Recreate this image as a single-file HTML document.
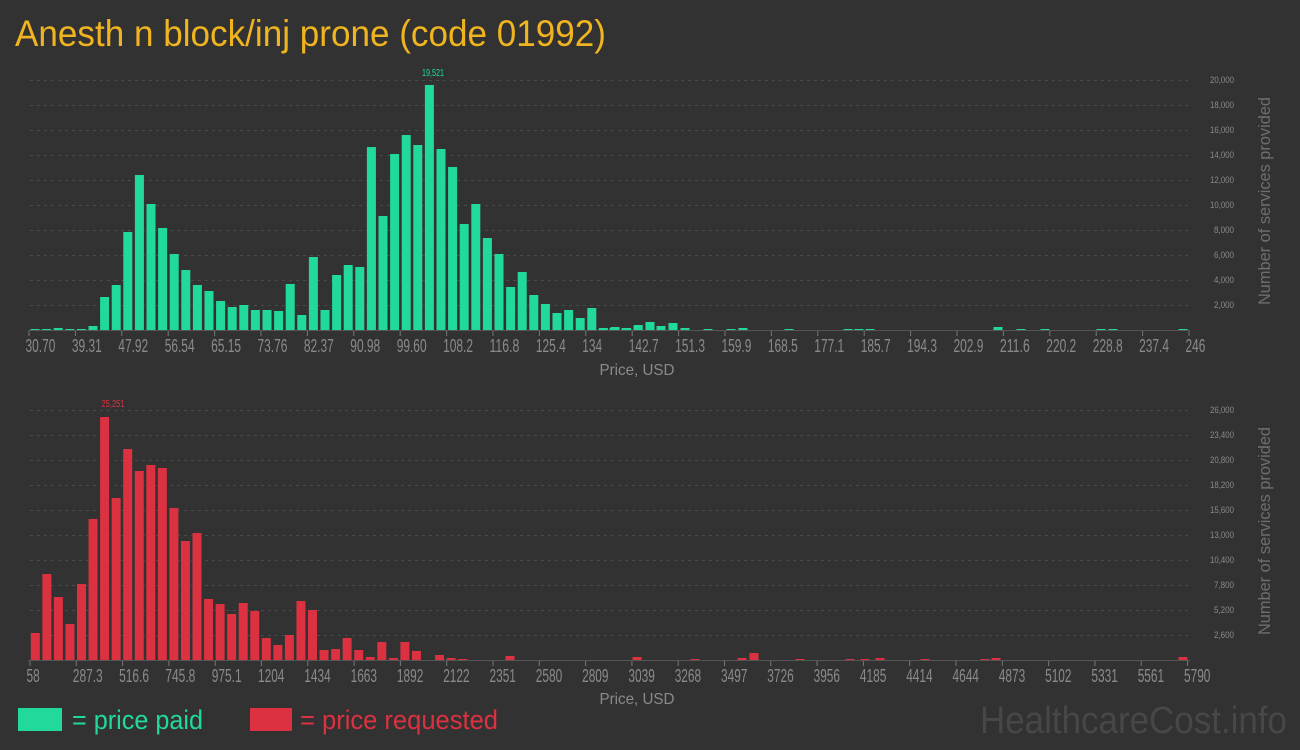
<!DOCTYPE html>
<html><head><meta charset="utf-8"><style>
html,body{margin:0;padding:0;background:#323232;}
svg{display:block}
text{font-family:"Liberation Sans Narrow","Liberation Sans",sans-serif;}
</style></head><body>
<svg id="s" width="1300" height="750" xmlns="http://www.w3.org/2000/svg">
<rect width="1300" height="750" fill="#323232"/>
<text x="15" y="46" font-size="37" fill="#efb41f" textLength="591" lengthAdjust="spacingAndGlyphs">Anesth n block/inj prone (code 01992)</text>
<g id="grid" stroke="#4a4a4a" stroke-dasharray="3,4" stroke-width="1"></g>
<g id="bars"></g>
<line x1="28" y1="330.5" x2="1190" y2="330.5" stroke="#555"/>
<line x1="28" y1="660.5" x2="1190" y2="660.5" stroke="#555"/>
<g id="ticks" stroke="#777"></g>
<g id="tl" font-size="18" fill="#8a8a8a">
<text>30.70</text><text>39.31</text><text>47.92</text><text>56.54</text><text>65.15</text><text>73.76</text><text>82.37</text><text>90.98</text><text>99.60</text><text>108.2</text><text>116.8</text><text>125.4</text><text>134</text><text>142.7</text><text>151.3</text><text>159.9</text><text>168.5</text><text>177.1</text><text>185.7</text><text>194.3</text><text>202.9</text><text>211.6</text><text>220.2</text><text>228.8</text><text>237.4</text><text>246</text>
</g>
<g id="bl" font-size="18" fill="#8a8a8a">
<text>58</text><text>287.3</text><text>516.6</text><text>745.8</text><text>975.1</text><text>1204</text><text>1434</text><text>1663</text><text>1892</text><text>2122</text><text>2351</text><text>2580</text><text>2809</text><text>3039</text><text>3268</text><text>3497</text><text>3726</text><text>3956</text><text>4185</text><text>4414</text><text>4644</text><text>4873</text><text>5102</text><text>5331</text><text>5561</text><text>5790</text>
</g>
<g font-size="16" fill="#8a8a8a" text-anchor="middle">
<text x="637" y="375" textLength="75" lengthAdjust="spacingAndGlyphs">Price, USD</text><text x="637" y="704" textLength="75" lengthAdjust="spacingAndGlyphs">Price, USD</text>
</g>
<g id="yl" font-size="9" fill="#8a8a8a" text-anchor="end">
<text x="1234" y="83">20,000</text><text x="1234" y="108">18,000</text><text x="1234" y="133">16,000</text><text x="1234" y="158">14,000</text><text x="1234" y="183">12,000</text><text x="1234" y="208">10,000</text><text x="1234" y="233">8,000</text><text x="1234" y="258">6,000</text><text x="1234" y="283">4,000</text><text x="1234" y="308">2,000</text>
<text x="1234" y="413">26,000</text><text x="1234" y="438">23,400</text><text x="1234" y="463">20,800</text><text x="1234" y="488">18,200</text><text x="1234" y="513">15,600</text><text x="1234" y="538">13,000</text><text x="1234" y="563">10,400</text><text x="1234" y="588">7,800</text><text x="1234" y="613">5,200</text><text x="1234" y="638">2,600</text>
</g>
<g font-size="17" fill="#6e6e6e" text-anchor="middle">
<text transform="translate(1270,201) rotate(-90)" textLength="208" lengthAdjust="spacingAndGlyphs">Number of services provided</text>
<text transform="translate(1270,531) rotate(-90)" textLength="208" lengthAdjust="spacingAndGlyphs">Number of services provided</text>
</g>
<text x="433" y="76" font-size="10" fill="#21d99b" text-anchor="middle" textLength="22" lengthAdjust="spacingAndGlyphs">19,521</text>
<text x="113" y="407" font-size="10" fill="#dc3140" text-anchor="middle" textLength="23" lengthAdjust="spacingAndGlyphs">25,251</text>
<rect x="18" y="708" width="44" height="23" fill="#21d99b"/>
<text x="72" y="729" font-size="27" fill="#21d99b" textLength="131" lengthAdjust="spacingAndGlyphs">= price paid</text>
<rect x="250" y="708" width="42" height="23" fill="#dc3140"/>
<text x="300" y="729" font-size="27" fill="#dc3140" textLength="198" lengthAdjust="spacingAndGlyphs">= price requested</text>
<text x="980" y="733" font-size="38" fill="#474747" textLength="307" lengthAdjust="spacingAndGlyphs">HealthcareCost.info</text>
</svg>
<script>
var NS="http://www.w3.org/2000/svg",g=document.getElementById('bars'),gr=document.getElementById('grid'),tk=document.getElementById('ticks');
function r(x,y,w,h,c){var e=document.createElementNS(NS,'rect');e.setAttribute('x',x);e.setAttribute('y',y);e.setAttribute('width',w);e.setAttribute('height',h);e.setAttribute('fill',c);g.appendChild(e);}
function l(x1,y1,x2,y2,p){var e=document.createElementNS(NS,'line');e.setAttribute('x1',x1);e.setAttribute('y1',y1);e.setAttribute('x2',x2);e.setAttribute('y2',y2);p.appendChild(e);}
for(var i=0;i<10;i++){l(30,80+25*i+.5,1190,80+25*i+.5,gr);l(30,410+25*i+.5,1190,410+25*i+.5,gr);}
for(var i=0;i<26;i++){l(29+46.4*i,331,29+46.4*i,336,tk);l(30+46.3*i,661,30+46.3*i,666,tk);}
function wid(s){var w=0;for(var k=0;k<s.length;k++){w+=(s[k]=='.'||s[k]==',')?3.5:6.6;}return w;}
[['tl',29,46.4,352],['bl',30,46.3,682]].forEach(function(a){var ts=document.getElementById(a[0]).getElementsByTagName('text');for(var i=0;i<ts.length;i++){var t=ts[i];t.setAttribute('x',a[1]+a[2]*i-3.5);t.setAttribute('y',a[3]);t.setAttribute('textLength',wid(t.textContent));t.setAttribute('lengthAdjust','spacingAndGlyphs');}});
var yts=document.getElementById('yl').getElementsByTagName('text');for(var i=0;i<yts.length;i++){var t=yts[i];t.setAttribute('textLength',t.textContent.length*4);t.setAttribute('lengthAdjust','spacingAndGlyphs');}
var tb=[1,1,2,1,1,4,33,45,98,155,126,102,76,60,45,39,29,23,25,20,20,19,46,15,73,20,55,65,63,183,114,176,195,185,245,181,163,106,126,92,76,43,58,35,26,17,20,12,22,2,3,2,5];
for(var i=0;i<tb.length;i++){var c=35+11.6*i;r(c-4.5,330-tb[i],9,tb[i],'#21d99b');}
[[603,1],[614,2],[626,2],[638,4],[650,8],[661,4],[673,7],[685,2],[708,1],[731,1],[743,2],[789,1],[848,1],[859,1],[870,1],[998,3],[1021,1],[1045,1],[1101,1],[1113,1],[1183,1]].forEach(function(b){r(b[0]-4.5,330-b[1],9,b[1],'#21d99b');});
var bb=[27,86,63,36,76,141,243,162,211,189,195,192,152,119,127,61,56,46,57,49,22,15,25,59,50,10,11,22,10,3,18,2,18,9,0,5,2,1];
for(var i=0;i<bb.length;i++){var c=35.3+11.55*i;if(bb[i])r(c-4.5,660-bb[i],9,bb[i],'#dc3140');}
[[510,4],[637,3],[695,1],[742,2],[754,7],[800,1],[850,1],[865,1],[880,2],[925,1],[985,1],[996,2],[1183,3]].forEach(function(b){r(b[0]-4.5,660-b[1],9,b[1],'#dc3140');});
</script>
</body></html>
